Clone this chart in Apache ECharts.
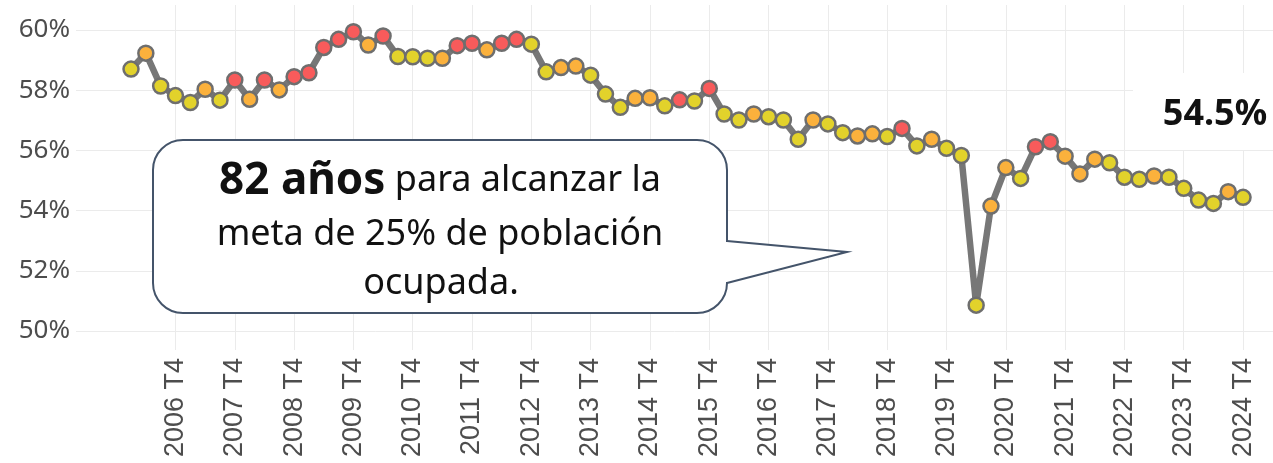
<!DOCTYPE html>
<html>
<head>
    <meta charset="utf-8" />
    <script src="https://cdn.jsdelivr.net/npm/echarts@6/dist/echarts.min.js"></script>
    <style>
        html, body { margin: 0; padding: 0; background: #fff; }
        #chart { width: 1273px; height: 463px; }
    </style>
</head>
<body>
    <div id="chart"></div>
    <script type="text/javascript">
        // tasa de ocupación trimestral, 2006 T1 - 2024 T4
        var years = [2006, 2007, 2008, 2009, 2010, 2011, 2012, 2013, 2014, 2015,
                     2016, 2017, 2018, 2019, 2020, 2021, 2022, 2023, 2024];
        var quarters = ['T1', 'T2', 'T3', 'T4'];

        var values = [
            58.70, 59.23, 58.14, 57.82, 57.59, 58.03, 57.67, 58.34,
            57.70, 58.34, 58.01, 58.45, 58.58, 59.42, 59.69, 59.94,
            59.50, 59.80, 59.12, 59.11, 59.06, 59.06, 59.48, 59.56,
            59.34, 59.56, 59.69, 59.53, 58.61, 58.75, 58.80, 58.50,
            57.87, 57.43, 57.73, 57.75, 57.48, 57.68, 57.64, 58.06,
            57.21, 57.01, 57.21, 57.12, 57.01, 56.37, 57.01, 56.88,
            56.59, 56.48, 56.55, 56.46, 56.73, 56.15, 56.37, 56.07,
            55.83, 50.86, 54.15, 55.43, 55.07, 56.12, 56.29, 55.81,
            55.22, 55.71, 55.59, 55.11, 55.04, 55.15, 55.11, 54.74,
            54.35, 54.24, 54.63, 54.44
        ];

        // color de cada punto: Y amarillo, O naranja, R rojo
        var levels = [
            'Y', 'O', 'Y', 'Y', 'Y', 'O', 'Y', 'R',
            'O', 'R', 'O', 'R', 'R', 'R', 'R', 'R',
            'O', 'R', 'Y', 'Y', 'Y', 'O', 'R', 'R',
            'O', 'R', 'R', 'Y', 'Y', 'O', 'O', 'Y',
            'Y', 'Y', 'O', 'O', 'Y', 'R', 'Y', 'R',
            'Y', 'Y', 'O', 'Y', 'Y', 'Y', 'O', 'Y',
            'Y', 'O', 'O', 'Y', 'R', 'Y', 'O', 'Y',
            'Y', 'Y', 'O', 'O', 'Y', 'R', 'R', 'O',
            'O', 'O', 'Y', 'Y', 'Y', 'O', 'Y', 'Y',
            'Y', 'Y', 'O', 'Y'
        ];

        var yTicks = [50, 52, 54, 56, 58, 60];
        var lastLabel = '54.5%';

        var palette = { Y: '#e2d22b', O: '#fbb13c', R: '#f85b5b' };

        var labels = [];
        years.forEach(function (y) {
            quarters.forEach(function (q) { labels.push(y + ' ' + q); });
        });
        // una marca por año, en el cuarto trimestre
        var xTicks = [];
        for (var i = 3; i < labels.length; i += 4) xTicks.push(i);

        var points = values.map(function (v, i) {
            return { value: [i, v], itemStyle: { color: palette[levels[i]] } };
        });

        var myChart = echarts.init(document.getElementById('chart'));
        var option = {
            backgroundColor: '#ffffff',
            animation: false,
            grid: { left: 76, right: 0, top: 5, bottom: 113, outerBoundsMode: 'none' },
            xAxis: {
                type: 'value',
                min: -3.71,
                max: 77.02,
                axisLine: { show: false },
                axisTick: { show: false, customValues: xTicks },
                splitLine: { show: true, lineStyle: { color: '#ebebeb', width: 1 } },
                axisLabel: {
                    customValues: xTicks,
                    rotate: 90,
                    margin: 8,
                    color: '#4d4d4d',
                    fontSize: 27,
                    fontFamily: 'Liberation Sans',
                    formatter: function (v) { return labels[Math.round(v)]; }
                }
            },
            yAxis: {
                type: 'value',
                min: 49.37,
                max: 60.83,
                axisLine: { show: false },
                axisTick: { show: false, customValues: yTicks },
                splitLine: { show: true, lineStyle: { color: '#ebebeb', width: 1 } },
                axisLabel: {
                    customValues: yTicks,
                    margin: 6,
                    color: '#4d4d4d',
                    fontSize: 26,
                    fontFamily: 'Noto Sans',
                    formatter: function (v) { return v + '%'; }
                }
            },
            series: [{
                type: 'line',
                data: points,
                symbol: 'circle',
                symbolSize: 15,
                lineStyle: { color: '#777777', width: 6.5 },
                itemStyle: { borderColor: '#6e6e6e', borderWidth: 2.5 },
                z: 3
            }],
            graphic: [
                // etiqueta del último valor
                {
                    type: 'rect', z: 11,
                    shape: { x: 1133, y: 73, width: 140, height: 77 },
                    style: { fill: '#ffffff' }
                },
                {
                    type: 'text', z: 12,
                    x: 1215, y: 115,
                    style: {
                        text: lastLabel, fill: '#111111',
                        font: 'bold 36px "Noto Sans"',
                        textAlign: 'center', textVerticalAlign: 'middle'
                    }
                },
                // globo de texto
                {
                    type: 'polygon', z: 20,
                    shape: { points: [[726, 241], [847, 252], [726, 283]] },
                    style: { fill: '#ffffff' }
                },
                {
                    type: 'rect', z: 21,
                    shape: { x: 153, y: 140, width: 574, height: 173, r: 30 },
                    style: { fill: '#ffffff', stroke: '#44546a', lineWidth: 2 }
                },
                {
                    type: 'rect', z: 22,
                    shape: { x: 724, y: 242, width: 6, height: 40 },
                    style: { fill: '#ffffff' }
                },
                {
                    type: 'polyline', z: 23,
                    shape: { points: [[727, 241], [847, 252], [727, 283]] },
                    style: { stroke: '#44546a', lineWidth: 2, fill: null }
                },
                {
                    type: 'text', z: 24, x: 440, y: 181,
                    style: {
                        text: '{b|82 años} para alcanzar la',
                        textAlign: 'center', textVerticalAlign: 'middle',
                        fill: '#111111', font: '36px "Noto Sans"',
                        rich: {
                            b: { font: 'bold 44px "Noto Sans"', fill: '#111111' }
                        }
                    }
                },
                {
                    type: 'text', z: 24, x: 440, y: 235,
                    style: {
                        text: 'meta de 25% de población',
                        textAlign: 'center', textVerticalAlign: 'middle',
                        fill: '#111111', font: '36px "Noto Sans"'
                    }
                },
                {
                    type: 'text', z: 24, x: 441, y: 284,
                    style: {
                        text: 'ocupada.',
                        textAlign: 'center', textVerticalAlign: 'middle',
                        fill: '#111111', font: '36px "Noto Sans"'
                    }
                }
            ]
        };
        myChart.setOption(option);
    </script>
</body>
</html>
